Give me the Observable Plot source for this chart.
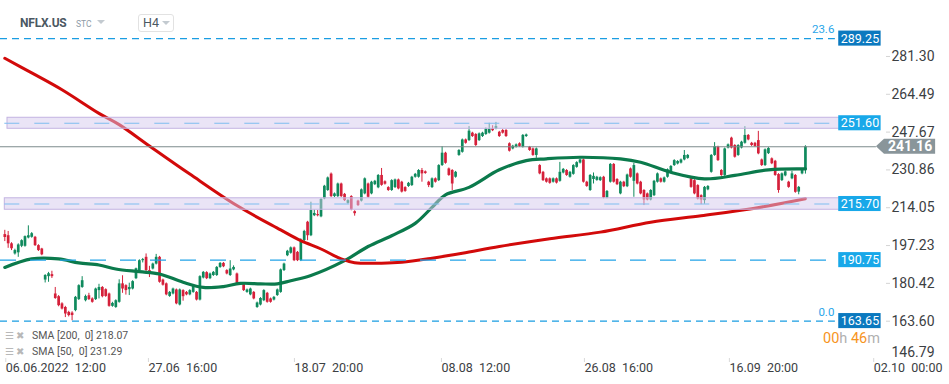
<!DOCTYPE html>
<html><head><meta charset="utf-8">
<script src="https://cdn.jsdelivr.net/npm/d3@7"></script>
<script src="https://cdn.jsdelivr.net/npm/@observablehq/plot@0.6"></script>
<style>
html,body{margin:0;padding:0;background:#fff;}
#wrap{position:relative;width:949px;height:384px;font-family:Roboto,"Noto Sans",sans-serif;overflow:hidden;}
.ov{position:absolute;white-space:pre;line-height:1;}
</style></head><body>
<div id="wrap">
  <div id="chart"></div>
  <div class="ov" style="left:20px;top:17px;font-size:12px;font-weight:700;letter-spacing:-0.2px;color:#4b5862;">NFLX.US</div>
  <div class="ov" style="left:76px;top:20px;font-size:8.5px;color:#8d9aa6;">STC</div>
  <div class="ov" style="left:97px;top:20px;width:0;height:0;border-left:4px solid transparent;border-right:4px solid transparent;border-top:4px solid #c3cad0;"></div>
  <div class="ov" style="left:138px;top:14px;width:34px;height:16px;border:1px solid #e2e2e2;border-radius:3px;"></div>
  <div class="ov" style="left:143px;top:17px;font-size:12.5px;color:#4b5862;">H4</div>
  <div class="ov" style="left:162px;top:21px;width:0;height:0;border-left:4px solid transparent;border-right:4px solid transparent;border-top:4px solid #c3cad0;"></div>
  <div class="ov" style="left:5px;top:331px;font-size:10px;color:#b8b8b8;">☰ ✖</div>
  <div class="ov" style="left:32px;top:331px;font-size:10.5px;color:#555;">SMA [200,  0] 218.07</div>
  <div class="ov" style="left:5px;top:347px;font-size:10px;color:#b8b8b8;">☰ ✖</div>
  <div class="ov" style="left:32px;top:347px;font-size:10.5px;color:#555;">SMA [50,  0] 231.29</div>
  <div class="ov" style="left:823px;top:332px;font-size:14.5px;"><span style="color:#f7941d">00</span><span style="color:#b0b0b0">h </span><span style="color:#f7941d">46</span><span style="color:#b0b0b0">m</span></div>
</div>
<script>
// ---- data (H4 candles) ----
const open = [202.1,201.6,198.0,193.5,194.0,196.9,196.9,200.6,200.9,200.9,
197.2,195.7,181.9,183.4,184.3,175.7,174.5,171.3,169.7,167.5,
167.2,168.3,173.2,178.6,172.7,174.9,173.5,173.2,177.2,178.6,
177.6,175.7,170.2,169.7,172.0,180.2,179.4,177.6,177.9,182.5,
186.1,190.5,192.0,186.1,186.8,189.0,192.0,181.9,180.2,174.6,
175.7,177.5,170.8,177.2,176.4,175.3,176.4,176.4,173.0,182.8,
185.2,182.5,183.9,183.9,187.5,189.3,186.1,183.9,186.4,184.6,
180.4,180.2,176.4,175.3,176.4,169.7,170.8,172.7,176.0,173.5,
173.0,175.0,176.4,186.1,192.7,193.8,196.2,194.2,190.5,199.4,
207.6,201.6,210.5,211.0,210.0,218.0,221.7,229.0,219.0,219.0,
224.6,220.0,216.0,219.0,212.3,217.0,217.0,220.2,224.6,220.2,
224.3,222.9,228.4,225.6,223.0,221.7,223.0,226.4,225.4,223.0,
223.5,223.9,227.6,227.6,230.6,230.0,225.4,223.0,226.9,226.1,
232.8,238.3,231.3,230.6,227.6,237.3,238.7,244.2,243.9,247.2,
246.6,243.9,245.7,246.6,247.2,249.1,249.1,247.6,248.4,248.4,
242.5,240.2,241.0,242.5,241.0,245.7,240.9,240.2,237.3,232.8,
229.8,226.9,226.9,225.4,226.9,225.8,229.5,230.6,227.6,228.9,
232.0,233.9,235.3,225.4,221.7,226.6,226.2,226.1,227.6,218.4,
225.4,233.3,226.6,220.2,225.4,223.4,231.3,225.8,229.1,225.4,
221.7,220.2,217.5,219.4,225.4,226.9,225.4,227.6,229.4,232.8,
233.5,233.9,235.3,236.0,226.9,226.1,223.9,219.4,217.2,222.0,
229.8,237.3,241.0,230.6,228.4,240.6,245.0,241.7,237.3,240.6,
242.7,246.2,242.7,242.7,243.9,235.3,232.8,238.1,235.8,234.7,
228.8,226.1,228.2,225.4,226.9,228.4,221.0,229.1,230.9];
const high = [204.0,203.5,198.5,195.6,198.0,199.8,201.5,206.0,203.0,201.3,
197.6,196.0,184.3,185.3,185.8,178.6,175.0,171.8,170.2,168.0,
167.8,174.6,179.8,183.4,175.2,176.0,174.0,178.3,180.0,179.0,
178.0,176.1,172.0,173.1,182.0,183.8,179.8,180.5,181.6,187.2,
190.9,191.5,193.5,188.0,189.4,193.3,192.4,182.3,180.6,176.8,
178.3,177.9,177.9,177.6,176.8,177.6,179.8,176.8,183.8,185.7,
185.6,185.0,185.7,187.9,189.7,189.7,186.5,190.5,188.2,185.0,
180.8,180.6,177.9,178.3,176.8,172.1,174.1,177.6,176.4,173.9,
174.6,177.9,186.8,189.4,195.1,196.6,196.6,194.6,200.2,204.0,
208.0,216.5,213.0,212.8,218.1,224.0,227.7,229.5,220.6,225.0,
225.0,220.4,217.6,219.4,212.7,217.4,222.4,227.3,225.0,225.8,
226.2,228.8,231.5,226.0,223.4,226.5,226.8,226.8,225.8,223.4,
225.3,228.0,229.3,231.0,231.5,230.4,225.8,227.3,227.3,233.2,
241.2,238.7,231.7,231.0,230.2,239.9,244.6,244.6,250.1,247.6,
247.0,247.3,247.6,249.5,251.6,250.5,252.0,248.0,248.8,248.8,
242.9,241.8,242.4,242.9,246.6,246.8,241.3,240.6,240.6,233.2,
230.2,227.3,227.3,227.3,227.3,234.2,231.5,231.0,230.2,233.2,
234.5,235.7,235.7,225.8,228.8,229.5,228.0,227.8,228.0,221.7,
233.7,233.7,227.0,225.8,225.8,229.0,231.7,233.8,229.5,225.8,
222.1,220.6,222.1,226.2,229.5,227.3,227.7,231.3,232.8,235.4,
235.0,235.7,239.5,237.7,227.3,226.5,224.3,219.8,223.5,223.9,
237.7,243.0,241.4,231.0,240.6,242.4,245.4,242.1,242.1,243.6,
250.1,246.6,243.1,243.1,248.0,235.7,240.2,240.8,236.2,235.1,
229.2,229.5,230.4,225.8,230.2,228.8,223.5,231.3,241.6];
const low = [199.0,196.0,195.0,193.0,192.0,196.3,196.5,200.2,200.5,196.8,
194.6,192.7,180.6,180.9,182.6,173.3,170.0,168.6,165.2,165.5,
163.8,167.8,172.8,178.2,172.2,172.8,171.6,172.8,173.5,174.0,
174.2,169.8,169.8,169.3,171.6,176.0,175.2,175.0,177.5,182.1,
185.7,189.5,185.7,183.0,186.4,188.6,180.5,179.2,174.9,174.2,
175.3,170.9,170.4,172.5,174.9,174.9,176.0,172.6,172.6,182.4,
182.1,182.1,183.5,183.5,187.1,187.4,184.2,183.5,186.0,180.0,
179.6,176.8,176.0,174.9,173.1,169.3,170.4,172.3,171.6,171.6,
172.6,174.6,176.0,185.7,192.3,193.4,190.1,190.1,190.1,199.0,
199.4,201.2,210.1,210.0,209.6,217.6,221.3,218.6,218.6,218.6,
218.6,216.8,215.6,212.7,210.3,214.6,216.6,219.8,218.3,219.8,
223.9,222.5,223.6,224.1,221.3,221.3,222.6,222.0,220.6,220.9,
223.1,223.5,227.2,227.2,225.4,228.9,223.0,222.6,225.0,225.7,
232.4,233.4,228.0,221.7,227.2,236.9,238.3,242.3,243.5,245.3,
241.3,243.5,245.3,246.2,246.8,247.9,248.7,245.3,246.8,245.3,
238.8,239.8,240.6,240.9,240.6,245.3,239.1,236.9,236.0,228.7,
225.7,225.0,224.5,225.0,224.6,225.4,229.1,228.0,227.2,228.5,
231.6,233.5,225.0,223.1,221.3,224.6,225.8,225.7,218.0,218.0,
225.0,225.0,223.9,219.8,223.0,223.0,227.2,218.7,224.2,219.8,
215.0,217.1,217.1,219.0,225.0,225.0,225.0,227.2,229.0,232.4,
233.1,233.5,234.9,235.6,222.7,219.8,217.5,215.4,215.6,221.6,
229.4,236.9,234.6,228.0,228.0,240.2,240.2,236.1,236.9,240.2,
242.3,243.8,241.3,240.9,237.6,232.4,232.4,237.7,233.2,228.0,
220.5,225.7,227.8,222.7,226.5,220.5,219.8,228.7,229.0];
const close = [200.8,198.0,195.8,195.0,197.5,199.4,201.2,201.6,202.5,197.2,
195.0,193.1,183.9,184.7,183.4,173.7,170.5,169.0,166.8,166.1,
166.1,174.2,179.4,181.6,174.6,173.2,172.0,177.9,178.6,174.5,
174.6,170.2,171.5,172.7,180.2,177.9,177.2,178.6,181.2,186.9,
190.5,191.0,186.1,184.6,189.0,192.0,180.9,179.6,175.3,176.4,
177.9,171.3,177.5,174.5,175.3,177.2,179.4,173.0,183.4,185.3,
182.5,184.6,185.3,187.5,189.3,187.8,184.6,186.8,187.5,180.4,
180.0,177.2,177.5,177.9,173.5,171.7,173.7,177.2,172.0,172.0,
174.2,177.5,186.4,189.0,194.7,196.2,190.5,190.5,199.4,203.5,
201.6,212.8,211.5,210.5,217.7,223.6,227.3,219.0,220.2,224.6,
219.0,217.2,217.2,213.1,211.4,215.0,222.0,226.9,218.7,225.4,
225.8,228.4,224.0,224.5,221.7,226.1,226.4,222.4,221.0,221.3,
224.9,227.6,228.9,230.6,229.1,229.3,223.9,226.9,225.4,232.8,
238.3,233.8,228.4,224.6,229.8,239.5,244.2,242.7,248.1,245.7,
241.7,246.9,247.2,249.1,249.1,248.3,250.1,245.7,247.2,245.7,
239.2,241.4,242.0,241.3,246.2,246.4,239.5,237.3,240.2,229.1,
226.1,225.4,224.9,226.9,225.0,229.8,231.1,228.4,229.8,232.8,
234.1,235.3,225.4,223.5,228.4,228.0,227.6,227.4,218.4,221.3,
233.3,225.4,224.3,225.4,223.4,228.6,227.6,232.8,224.6,220.2,
217.5,217.5,221.7,225.8,229.1,225.4,227.3,230.9,232.4,235.0,
234.6,235.3,237.3,237.3,223.1,220.2,217.9,217.5,223.1,223.5,
237.3,241.2,235.0,228.4,240.2,242.0,240.6,236.5,241.7,243.2,
246.2,244.2,241.7,241.3,238.0,232.8,239.8,240.4,233.6,228.4,
221.7,229.1,230.0,223.1,229.1,220.9,223.1,230.9,241.16];

// moving averages, sampled along the drawn lines (candle index, value)
const sma200Idx = [0, 8, 17, 28, 34, 43, 55, 69, 82, 88, 94, 100, 104, 112, 118, 127, 136, 147, 162, 177, 192, 207, 222, 238];
const sma200Val = [280.5, 274.0, 266.5, 256.0, 251.0, 241.5, 229.0, 215.0, 204.2, 199.4, 195.7, 191.3, 189.6, 189.4, 189.8, 191.6, 193.8, 196.8, 200.3, 203.2, 207.6, 210.5, 213.6, 218.07];
const sma50Idx = [0, 8, 16, 22, 28, 33, 40, 46, 53, 59, 65, 70, 76, 81, 85, 91, 101, 108, 115, 122, 127, 131, 138, 147, 155, 161, 171, 183, 189, 198, 208, 217, 227, 238];
const sma50Val = [187.5, 191.3, 191.3, 189.5, 188.6, 186.8, 185.6, 184.6, 180.9, 178.6, 179.0, 180.4, 180.2, 180.2, 181.6, 183.9, 190.5, 196.8, 201.6, 207.1, 214.2, 219.8, 223.1, 230.9, 235.0, 235.8, 236.5, 235.8, 234.3, 229.8, 226.9, 228.4, 230.9, 231.29];

// axis ticks
const xTickIdx = [0, 42.4, 85.8, 129.5, 172, 215.1, 258];
const xTickLabels = ["06.06.2022\u00a0\u00a012:00", "27.06\u00a0\u00a016:00", "18.07\u00a0\u00a020:00", "08.08\u00a0\u00a012:00", "26.08\u00a0\u00a016:00", "16.09\u00a0\u00a020:00", "02.10\u00a0\u00a000:00"];
const yTicks = [281.30, 264.49, 247.67, 230.86, 214.05, 197.23, 180.42, 163.60];
const yTickLast = [146.79];

// price levels
const fiboLevels = [289.25, 163.65];
const fiboNames = ["23.6", "0.0"];
const zoneLevels = [251.60, 215.70];
const zoneHalf = [2.45, 2.55];
const supportLevels = [190.75];
const lastPrice = 241.16;

// ---- build ----
const candles = close.map((c, i) => ({i, o: open[i], h: high[i], l: low[i], c}));
const sma200 = sma200Idx.map((i, k) => ({i, v: sma200Val[k]}));
const sma50 = sma50Idx.map((i, k) => ({i, v: sma50Val[k]}));
const labelOf = new Map(xTickIdx.map((d, k) => [d, xTickLabels[k]]));

const UP = "#0f8a5d", DOWN = "#d5203a";
const lineEnd = 246.9, boxL = 247.9, boxR = 260.5, boxMid = 254.2, zoneL = [0.8, 0.0], zoneR = 249.0;
const tagTip = 259.1, tagBase = 261.5, tagR = 276.7, tagMid = 269.1;
const bh = 3.35;

const levelBoxes = [
  ...fiboLevels.map(v => ({v, fill: "#0b79bf"})),
  ...zoneLevels.map(v => ({v, fill: "#18a8e9"})),
  ...supportLevels.map(v => ({v, fill: "#18a8e9"}))
];
const zones = zoneLevels.map((v, k) => ({v, lo: v - zoneHalf[k], hi: v + zoneHalf[k], x1: zoneL[k]}));
const tag = [{x: tagTip, lo: lastPrice, hi: lastPrice}, {x: tagBase, lo: lastPrice - bh, hi: lastPrice + bh}, {x: tagR, lo: lastPrice - bh, hi: lastPrice + bh}];

const chart = Plot.plot({
  width: 949, height: 384,
  marginLeft: 0, marginRight: 64, marginTop: 0, marginBottom: 26,
  style: {fontFamily: "Roboto, 'Noto Sans', sans-serif", background: "#fff", overflow: "visible"},
  x: {domain: [-1.278, 261.8]},
  y: {domain: [147.01, 306.19]},
  marks: [
    // candles
    Plot.ruleX(candles, {x: "i", y1: "l", y2: "h", stroke: d => d.c >= d.o ? UP : DOWN, strokeWidth: 1}),
    Plot.ruleX(candles, {x: "i", y1: "o", y2: "c", stroke: d => d.c >= d.o ? UP : DOWN, strokeWidth: 2.7}),
    // moving averages
    Plot.line(sma50, {x: "i", y: "v", stroke: "#0b7a4c", strokeWidth: 3.2, curve: "catmull-rom"}),
    Plot.line(sma200, {x: "i", y: "v", stroke: "#d20a0a", strokeWidth: 3, curve: "catmull-rom"}),
    // zones
    Plot.rect(zones, {x1: "x1", x2: zoneR, y1: "lo", y2: "hi", fill: "#d6caee", fillOpacity: 0.5, stroke: "#c3b3e1", strokeWidth: 1}),
    Plot.ruleY(zoneLevels, {y: d => d, x1: 0, x2: zoneR - 0.5, stroke: "#7fbdf0", strokeWidth: 1.2, strokeDasharray: "15,15"}),
    // levels
    Plot.ruleY(fiboLevels, {y: d => d, x1: -1.278, x2: lineEnd, stroke: "#1a9de2", strokeWidth: 1.2, strokeDasharray: "7,5"}),
    Plot.ruleY(supportLevels, {y: d => d, x1: -1.278, x2: lineEnd, stroke: "#22a3e8", strokeWidth: 1.2, strokeDasharray: "16,14"}),
    Plot.ruleY([lastPrice], {y: d => d, x1: -1.278, x2: tagTip, stroke: "#7d8b8c", strokeWidth: 1}),
    Plot.text(fiboLevels, {x: lineEnd - 0.3, y: d => d, text: (d, k) => fiboNames[k], textAnchor: "end", dy: -9, fill: "#2aa6ea", fontSize: 11.5}),
    // level boxes
    Plot.rect(levelBoxes, {x1: boxL, x2: boxR, y1: d => d.v - bh, y2: d => d.v + bh, fill: "fill"}),
    Plot.text(levelBoxes, {x: boxMid, y: "v", text: d => d.v.toFixed(2), fill: "#fff", fontSize: 12.5}),
    // last price tag
    Plot.areaY(tag, {x: "x", y1: "lo", y2: "hi", fill: "#89959a"}),
    Plot.text([lastPrice], {x: tagMid, y: d => d, text: d => d.toFixed(2), fill: "#fff", fontSize: 14, fontWeight: "bold"}),
    // axes
    Plot.axisY({anchor: "right", ticks: yTicks, tickFormat: d => d.toFixed(2), tickSize: 4, tickPadding: 2, fontSize: 14, stroke: "#d4d4d4", fill: "#3c4043"}),
    Plot.text(yTickLast, {y: d => d, frameAnchor: "right", dx: 6, dy: -6, textAnchor: "start", text: d => d.toFixed(2), fontSize: 14, fill: "#3c4043"}),
    Plot.axisX({ticks: xTickIdx, tickFormat: d => labelOf.get(d), tickSize: 4, tickPadding: 1, textAnchor: "start", dx: 1, fontSize: 12.5, stroke: "#d9d9d9", fill: "#3c4043"})
  ]
});
document.getElementById("chart").appendChild(chart);
</script>
</body></html>
